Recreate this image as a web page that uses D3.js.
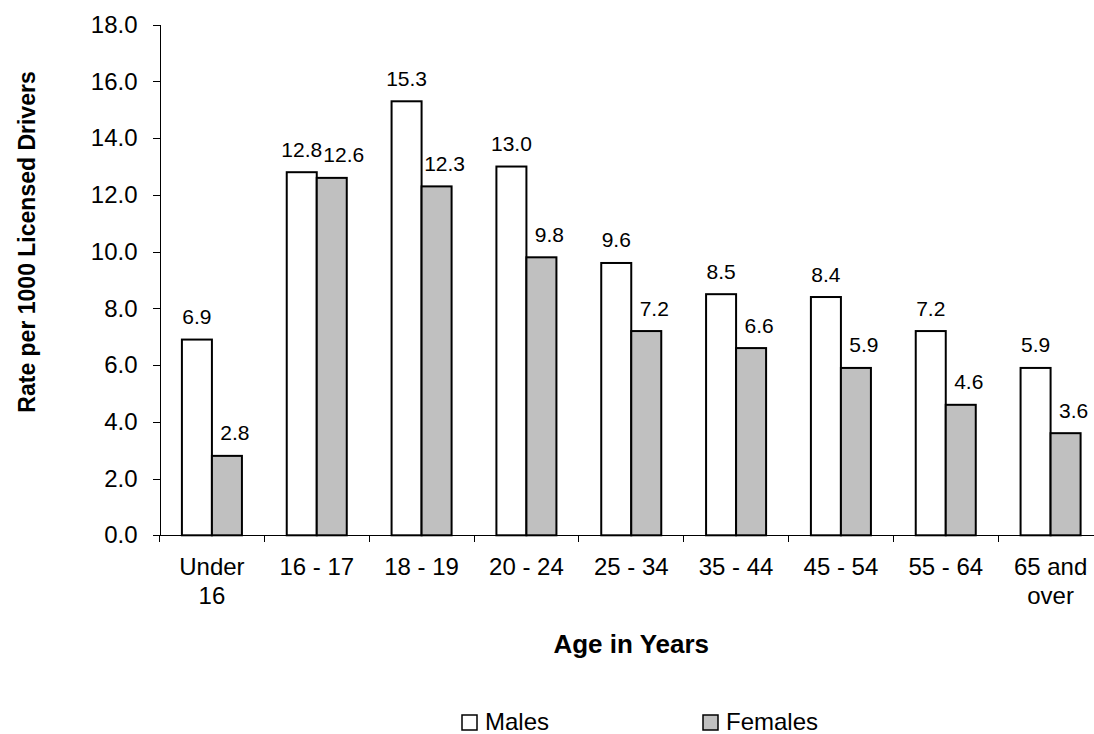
<!DOCTYPE html>
<html>
<head>
<meta charset="utf-8">
<script src="https://cdnjs.cloudflare.com/ajax/libs/d3/7.8.5/d3.min.js"></script>
<style>
  body { margin: 0; background: #fff; }
  svg { display: block; font-family: "Liberation Sans", Arial, sans-serif; }
</style>
</head>
<body>
<svg id="svg1" width="1094" height="734"></svg>
<script>
var categories = ['Under\n16', '16 - 17', '18 - 19', '20 - 24', '25 - 34', '35 - 44', '45 - 54', '55 - 64', '65 and\nover'];
var males   = [6.9, 12.8, 15.3, 13.0, 9.6, 8.5, 8.4, 7.2, 5.9];
var females = [2.8, 12.6, 12.3, 9.8, 7.2, 6.6, 5.9, 4.6, 3.6];
var seriesNames = ['Males', 'Females'];
var yTicks = [0, 2, 4, 6, 8, 10, 12, 14, 16, 18];

var svg = d3.select('svg');

var plotLeft = 159.5, plotRight = 1103, plotTop = 24.7, plotBottom = 535.3;

//slot scale: one slot per category, ticks sit on the slot edges
var xSlot = d3.scaleBand()
    .domain(categories)
    .range([plotLeft, plotRight])
    .padding(0);

//group scale: the pair of bars inside each slot
var x = d3.scaleBand()
    .domain(categories)
    .range([plotLeft, plotRight])
    .paddingInner(0.4275)
    .paddingOuter(0.21375);

var xSeries = d3.scaleBand()
    .domain(seriesNames)
    .range([0, x.bandwidth()]);

var y = d3.scaleLinear()
    .domain([0, 18])
    .range([plotBottom, plotTop]);

var colors = { 'Males': '#ffffff', 'Females': '#c0c0c0' };

var rows = categories.map(function(c, i) {
    return { cat: c, values: [
        { name: 'Males', value: males[i], other: females[i] },
        { name: 'Females', value: females[i], other: males[i] }
    ]};
});

//y axis
var yAxis = svg.append('g')
    .attr('transform', 'translate(' + plotLeft + ',0)')
    .call(d3.axisLeft(y).tickValues(yTicks).tickSize(7).tickPadding(15).tickFormat(d3.format('.1f')));
yAxis.select('.domain').attr('stroke', '#000').attr('shape-rendering', 'crispEdges');
yAxis.selectAll('.tick line').attr('stroke', '#000').attr('shape-rendering', 'crispEdges');
yAxis.selectAll('text')
    .attr('font-size', 24)
    .attr('font-family', '"Liberation Sans", Arial, sans-serif')
    .attr('fill', '#000');

//bars
var groups = svg.selectAll('.group')
    .data(rows)
    .enter()
    .append('g')
    .attr('class', 'group')
    .attr('transform', function(d) { return 'translate(' + x(d.cat) + ',0)'; });

groups.selectAll('rect')
    .data(function(d) { return d.values; })
    .enter()
    .append('rect')
    .attr('x', function(d) { return xSeries(d.name); })
    .attr('y', function(d) { return y(d.value); })
    .attr('width', xSeries.bandwidth())
    .attr('height', function(d) { return y(0) - y(d.value); })
    .attr('fill', function(d) { return colors[d.name]; })
    .attr('stroke', '#000')
    .attr('stroke-width', 2);

//female labels sit a little right of their bar, more when the male label is at the same height
groups.selectAll('.label')
    .data(function(d) { return d.values; })
    .enter()
    .append('text')
    .attr('class', 'label')
    .attr('x', function(d) {
        var dx = 0;
        if (d.name === 'Females') dx = Math.abs(d.value - d.other) < 1 ? 12 : 8;
        return xSeries(d.name) + xSeries.bandwidth() / 2 + dx;
    })
    .attr('y', function(d) { return y(d.value) - 15.5; })
    .attr('text-anchor', 'middle')
    .attr('font-size', 21)
    .text(function(d) { return d3.format('.1f')(d.value); });

//x axis line and category ticks
svg.append('line')
    .attr('x1', plotLeft).attr('x2', plotRight)
    .attr('y1', plotBottom).attr('y2', plotBottom)
    .attr('stroke', '#000')
    .attr('shape-rendering', 'crispEdges');

var edges = categories.map(function(c) { return xSlot(c); }).concat([plotRight]);
svg.selectAll('.xtick')
    .data(edges)
    .enter()
    .append('line')
    .attr('class', 'xtick')
    .attr('x1', function(d) { return d; }).attr('x2', function(d) { return d; })
    .attr('y1', plotBottom).attr('y2', plotBottom + 7)
    .attr('stroke', '#000')
    .attr('shape-rendering', 'crispEdges');

var xLabels = svg.selectAll('.xlabel')
    .data(categories)
    .enter()
    .append('text')
    .attr('class', 'xlabel')
    .attr('text-anchor', 'middle')
    .attr('font-size', 24)
    .attr('y', plotBottom + 40);

xLabels.selectAll('tspan')
    .data(function(d) { return d.split('\n').map(function(t) { return { cat: d, t: t }; }); })
    .enter()
    .append('tspan')
    .attr('x', function(d) { return xSlot(d.cat) + xSlot.bandwidth() / 2; })
    .attr('dy', function(d, i) { return i === 0 ? 0 : 29; })
    .text(function(d) { return d.t; });

//axis titles
svg.append('text')
    .attr('x', (plotLeft + plotRight) / 2)
    .attr('y', 653)
    .attr('text-anchor', 'middle')
    .attr('font-size', 26)
    .attr('font-weight', 'bold')
    .text('Age in Years');

svg.append('text')
    .attr('transform', 'translate(35,242) rotate(-90)')
    .attr('text-anchor', 'middle')
    .attr('font-size', 23)
    .attr('font-weight', 'bold')
    .text('Rate per 1000 Licensed Drivers');

//legend
var legendX = [462, 703];
var legend = svg.selectAll('.legend')
    .data(seriesNames)
    .enter()
    .append('g')
    .attr('class', 'legend')
    .attr('transform', function(d, i) { return 'translate(' + legendX[i] + ',715)'; });

legend.append('rect')
    .attr('width', 15).attr('height', 15)
    .attr('fill', function(d) { return colors[d]; })
    .attr('stroke', '#000')
    .attr('stroke-width', 1.5);

legend.append('text')
    .attr('x', 23)
    .attr('y', 15)
    .attr('font-size', 24)
    .text(function(d) { return d; });
</script>
</body>
</html>
